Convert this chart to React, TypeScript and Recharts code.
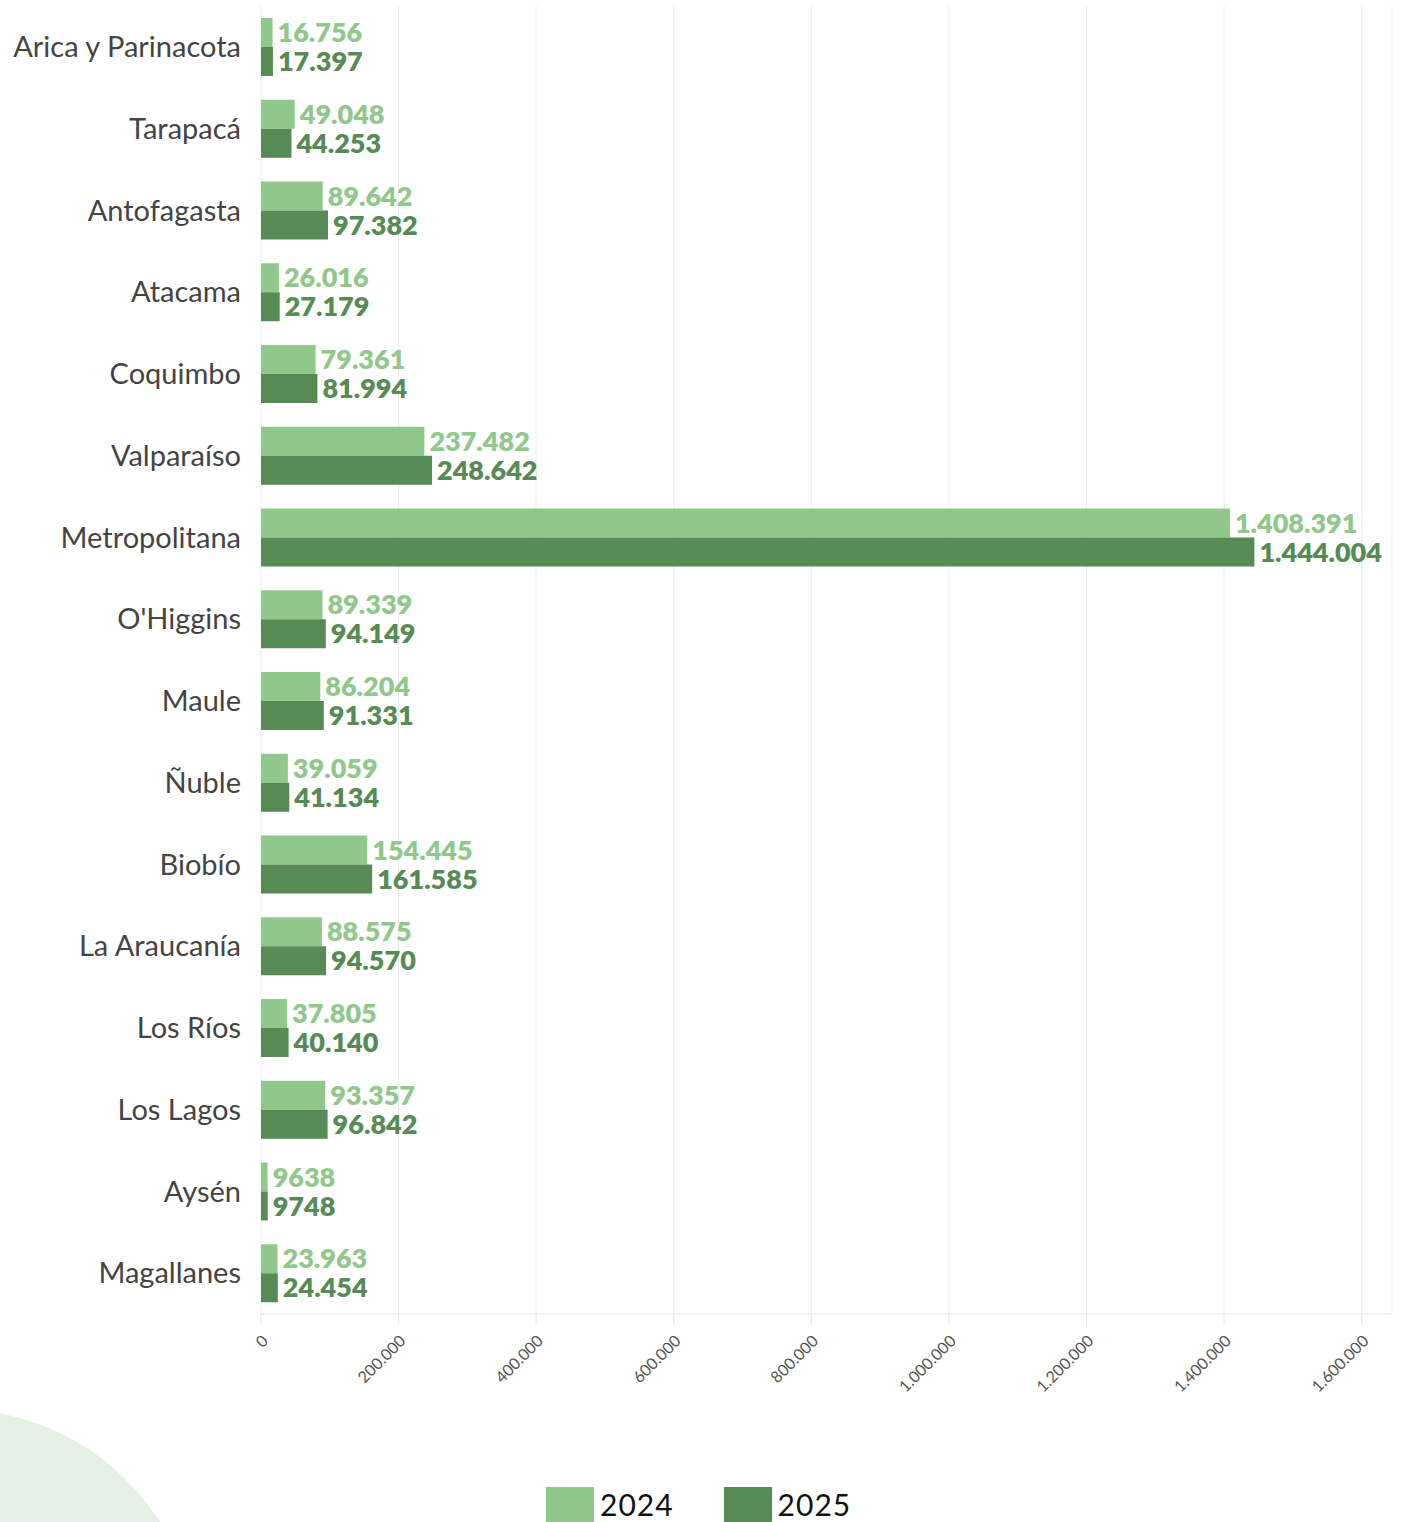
import { BarChart, Bar, XAxis, YAxis, CartesianGrid, LabelList } from 'recharts'

const regions = [
  'Arica y Parinacota', 'Tarapacá', 'Antofagasta', 'Atacama', 'Coquimbo', 'Valparaíso',
  'Metropolitana', "O'Higgins", 'Maule', 'Ñuble', 'Biobío', 'La Araucanía', 'Los Ríos',
  'Los Lagos', 'Aysén', 'Magallanes',
]
const values2024 = [16756, 49048, 89642, 26016, 79361, 237482, 1408391, 89339, 86204, 39059, 154445, 88575, 37805, 93357, 9638, 23963]
const values2025 = [17397, 44253, 97382, 27179, 81994, 248642, 1444004, 94149, 91331, 41134, 161585, 94570, 40140, 96842, 9748, 24454]
const xTicks = [0, 200000, 400000, 600000, 800000, 1000000, 1200000, 1400000, 1600000]
const seriesNames = ['2024', '2025']

const LIGHT = '#90c88b'
const DARK = '#568b55'
const FONT = 'Lato, sans-serif'

const data = regions.map((region, i) => ({ region, v2024: values2024[i], v2025: values2025[i] }))

// es-CL style: no separator below 10.000
const fmt = (v: number) => (v < 10000 ? String(v) : String(v).replace(/\B(?=(\d{3})+(?!\d))/g, '.'))

function XTick({ x, y, payload }: any) {
  return (
    <g transform={`translate(${x + 8},${y + 15})`}>
      <text textAnchor="end" transform="rotate(-45)" fontSize={16} fontFamily={FONT} fill="#555">
        {fmt(payload.value)}
      </text>
    </g>
  )
}

const labelStyle = (fill: string) => ({ fontSize: 27, fontWeight: 800, fontFamily: FONT, fill })

export default function App() {
  return (
    <div style={{ position: 'absolute', left: 0, top: 0, width: 1406, height: 1522, overflow: 'hidden', background: '#fff' }}>
      <div style={{ position: 'absolute', left: -45 - 242, top: 1651 - 242, width: 484, height: 484, borderRadius: '50%', background: '#e3f0e3' }} />
      <div style={{ position: 'relative' }}>
        <BarChart
          layout="vertical"
          width={1406}
          height={1522}
          data={data}
          margin={{ top: 6, right: 14, bottom: 128, left: 0 }}
          barGap={0}
          barSize={29}
        >
          <CartesianGrid horizontal={false} stroke="#ececec" />
          <XAxis
            type="number"
            domain={[0, 1644000]}
            ticks={xTicks}
            height={80}
            tickSize={11}
            axisLine={{ stroke: '#e6e6e6' }}
            tickLine={{ stroke: '#e6e6e6' }}
            tick={<XTick />}
            interval={0}
          />
          <YAxis
            type="category"
            dataKey="region"
            width={261}
            axisLine={false}
            tickLine={false}
            tickSize={0}
            tickMargin={20}
            interval={0}
            tick={{ fontSize: 29, fontFamily: FONT, fill: '#444' }}
          />
          <Bar dataKey="v2024" fill={LIGHT} isAnimationActive={false}>
            <LabelList dataKey="v2024" position="right" offset={5} formatter={(v: any) => fmt(Number(v))} style={labelStyle(LIGHT)} />
          </Bar>
          <Bar dataKey="v2025" fill={DARK} isAnimationActive={false}>
            <LabelList dataKey="v2025" position="right" offset={5} formatter={(v: any) => fmt(Number(v))} style={labelStyle(DARK)} />
          </Bar>
        </BarChart>
      </div>
      <div style={{ position: 'absolute', left: 546, top: 1487, display: 'flex', fontFamily: FONT, fontSize: 30, color: '#111' }}>
        {seriesNames.map((name, i) => (
          <div key={name} style={{ display: 'flex', alignItems: 'center', marginRight: 50 }}>
            <div style={{ width: 48, height: 35, background: i === 0 ? LIGHT : DARK, marginRight: 6 }} />
            <span style={{ lineHeight: '35px', letterSpacing: 1 }}>{name}</span>
          </div>
        ))}
      </div>
    </div>
  )
}
